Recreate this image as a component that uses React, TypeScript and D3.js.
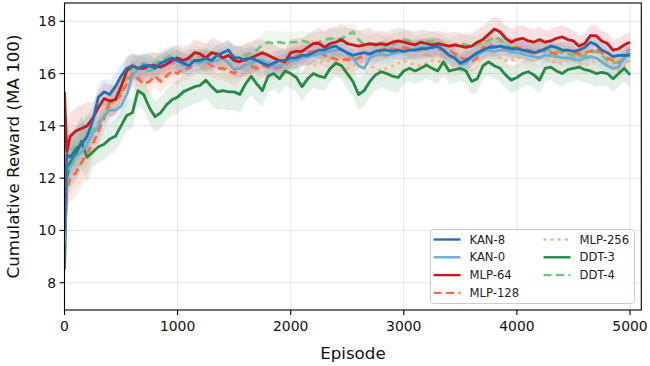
import React from 'react';
import * as d3 from 'd3';

// x grid of the moving averages
const episodes = [0, 20, ...d3.range(50, 5001, 50)];

const kan8 = [10.0, 12.9, 12.8, 13.1, 13.3, 13.6, 14.2, 15.1, 15.3, 15.2, 15.5, 15.9, 16.2, 16.3, 16.2, 16.3, 16.3, 16.2, 16.4, 16.5, 16.6,
  16.5, 16.4, 16.3, 16.5, 16.5, 16.6, 16.5, 16.7, 16.8, 16.9, 16.6, 16.6, 16.5, 16.6, 16.5, 16.4, 16.3, 16.4, 16.5, 16.5,
  16.6, 16.6, 16.7, 16.7, 16.8, 16.9, 16.9, 17.0, 17.05, 16.9, 16.8, 16.7, 16.75, 16.8, 16.75, 16.85, 16.9, 16.9, 16.85, 16.9,
  16.85, 16.9, 16.9, 16.95, 16.95, 17.0, 17.05, 16.9, 16.7, 16.6, 16.4, 16.5, 16.65, 16.8, 16.9, 17.0, 17.0, 17.05, 17.0, 16.95,
  16.95, 16.9, 16.85, 16.8, 16.85, 16.95, 17.05, 17.0, 16.9, 16.9, 16.85, 16.9, 17.0, 17.2, 17.1, 16.9, 16.8, 16.65, 16.7, 16.7, 16.7];
const kan0 = [9.5, 12.3, 12.4, 12.8, 13.0, 13.3, 13.7, 14.0, 14.4, 14.6, 14.6, 14.75, 15.2, 15.9, 16.2, 16.2, 16.1, 16.2, 16.3, 16.4, 16.4,
  16.5, 16.3, 16.5, 16.5, 16.4, 16.5, 16.45, 16.5, 16.6, 16.4, 16.15, 16.2, 16.35, 16.4, 16.5, 16.5, 16.4, 16.25, 16.3, 16.4,
  16.5, 16.5, 16.6, 16.65, 16.7, 16.75, 16.8, 16.85, 16.9, 16.95, 16.75, 16.6, 16.3, 16.2, 16.6, 16.7, 16.75, 16.7, 16.75, 16.8,
  16.85, 16.9, 16.95, 17.0, 17.0, 17.0, 17.0, 16.9, 16.7, 16.6, 16.35, 16.4, 16.6, 16.7, 16.85, 16.9, 16.85, 16.9, 16.9, 16.85,
  16.8, 16.75, 16.7, 16.65, 16.6, 16.7, 16.7, 16.65, 16.6, 16.6, 16.55, 16.5, 16.6, 16.65, 16.6, 16.45, 16.3, 16.2, 16.25, 16.65, 16.95];
const mlp64 = [15.3, 13.0, 13.6, 13.8, 13.9, 14.0, 14.3, 14.7, 15.05, 14.95, 15.0, 15.5, 16.1, 16.3, 16.2, 16.2, 16.3, 16.3, 16.25, 16.35, 16.5,
  16.6, 16.5, 16.6, 16.8, 16.75, 16.6, 16.8, 16.75, 16.6, 16.7, 16.5, 16.45, 16.55, 16.6, 16.7, 16.8, 16.7, 16.6, 16.5, 16.45,
  16.8, 16.85, 16.85, 17.0, 17.15, 17.15, 17.0, 17.15, 17.2, 17.3, 17.15, 17.1, 17.05, 17.1, 17.15, 17.1, 17.15, 17.1, 17.2, 17.25,
  17.2, 17.15, 17.1, 17.2, 17.15, 17.1, 17.15, 17.1, 17.05, 17.1, 17.05, 17.0, 17.05, 17.2, 17.3, 17.5, 17.7, 17.6, 17.35, 17.2,
  17.3, 17.35, 17.25, 17.2, 17.3, 17.2, 17.25, 17.35, 17.4, 17.3, 17.25, 17.05, 17.15, 17.45, 17.45, 17.25, 17.15, 16.9, 16.95, 17.1, 17.2];
const mlp128 = [9.8, 11.5, 12.0, 12.2, 12.6, 12.95, 13.3, 13.8, 14.3, 14.9, 15.0, 15.2, 15.6, 16.0, 15.8, 15.6, 15.7, 15.9, 15.7, 15.9, 16.1,
  16.0, 16.2, 16.2, 16.4, 16.5, 16.45, 16.3, 16.2, 16.2, 16.1, 16.0, 16.2, 16.35, 16.3, 16.2, 16.3, 16.25, 16.2, 16.25, 16.3,
  16.5, 16.7, 16.75, 16.8, 16.85, 16.8, 16.7, 16.6, 16.55, 16.5, 16.55, 16.5, 16.6, 16.7, 16.75, 16.8, 16.85, 17.0, 16.95, 16.9,
  17.0, 16.95, 16.9, 16.9, 16.95, 17.0, 16.95, 16.9, 16.9, 16.75, 16.6, 16.55, 16.45, 16.6, 17.0, 17.1, 17.05, 17.0, 16.9, 16.95,
  17.0, 16.95, 16.9, 16.85, 16.9, 16.85, 16.8, 16.75, 16.85, 16.9, 16.8, 16.75, 16.8, 16.85, 16.95, 16.8, 16.6, 16.5, 16.4, 16.6, 16.8];
const mlp256 = [10.2, 11.8, 12.2, 12.5, 12.8, 13.1, 13.5, 14.0, 14.5, 14.8, 15.0, 15.3, 15.7, 16.0, 16.0, 15.9, 16.0, 16.1, 16.0, 16.2, 16.3,
  16.3, 16.4, 16.4, 16.5, 16.4, 16.3, 16.4, 16.4, 16.3, 16.2, 16.3, 16.4, 16.4, 16.5, 16.4, 16.3, 16.4, 16.4, 16.5, 16.5,
  16.6, 16.6, 16.5, 16.4, 16.3, 16.4, 16.5, 16.5, 16.4, 16.3, 16.2, 16.3, 16.4, 16.5, 16.3, 16.2, 16.1, 16.2, 16.3, 16.4,
  16.5, 16.4, 16.35, 16.3, 16.4, 16.5, 16.5, 16.4, 16.3, 16.3, 16.4, 16.5, 16.4, 16.5, 16.6, 16.7, 16.7, 16.6, 16.5, 16.5,
  16.6, 16.6, 16.5, 16.5, 16.6, 16.6, 16.5, 16.4, 16.4, 16.5, 16.5, 16.4, 16.3, 16.4, 16.5, 16.5, 16.4, 16.2, 16.1, 16.3, 16.5];
const ddt3 = [8.5, 12.0, 12.6, 12.9, 13.4, 12.8, 13.0, 13.2, 13.3, 13.5, 13.6, 14.0, 14.4, 14.5, 15.35, 15.2, 14.7, 14.35, 14.5, 14.8, 15.0,
  15.1, 15.3, 15.4, 15.5, 15.55, 15.75, 15.5, 15.3, 15.35, 15.3, 15.3, 15.2, 15.6, 15.9, 15.6, 15.35, 15.9, 16.0, 15.8, 16.1,
  16.0, 15.85, 15.5, 15.8, 16.0, 15.9, 15.85, 16.2, 16.4, 16.3, 16.0, 15.7, 15.2, 15.35, 15.7, 15.95, 16.07, 16.0, 15.9, 15.85,
  16.1, 16.2, 16.1, 16.2, 16.33, 16.2, 16.1, 16.45, 16.1, 16.15, 16.2, 16.1, 15.7, 15.8, 16.3, 16.45, 16.3, 16.2, 15.95, 15.75,
  15.85, 16.0, 16.07, 15.95, 15.75, 16.2, 16.25, 16.1, 16.0, 16.15, 16.2, 16.25, 16.15, 16.1, 16.0, 16.05, 16.0, 15.8, 16.0, 16.2, 15.95];
const ddt4 = [9.3, 13.5, 13.0, 13.2, 13.4, 13.6, 13.9, 14.1, 14.5, 14.8, 15.0, 15.3, 15.8, 16.2, 16.3, 16.4, 16.35, 16.4, 16.5, 16.6, 16.7,
  16.6, 16.5, 16.6, 16.7, 16.6, 16.7, 16.8, 16.7, 16.6, 16.7, 16.65, 16.6, 16.7, 16.8, 16.9, 17.1, 17.2, 17.15, 17.2, 17.15,
  17.2, 17.2, 17.25, 17.2, 17.15, 17.2, 17.3, 17.35, 17.3, 17.35, 17.45, 17.6, 17.3, 17.1, 17.1, 17.15, 17.1, 17.05, 17.1, 17.2,
  17.3, 17.25, 17.1, 17.15, 17.2, 17.25, 17.2, 17.1, 17.0, 17.1, 17.15, 17.1, 17.05, 17.1, 17.2, 17.25, 17.4, 17.3, 17.1, 17.0,
  16.95, 16.9, 16.85, 16.8, 16.85, 16.9, 16.9, 16.85, 16.8, 16.75, 16.7, 16.65, 16.7, 16.8, 16.85, 16.7, 16.5, 16.4, 16.45, 16.6, 16.8];

// half width of the shaded band, one value per 250 episodes
const kan8Band = [0.8, 0.5, 0.45, 0.4, 0.4, 0.4, 0.45, 0.4, 0.4, 0.35, 0.35, 0.35, 0.35, 0.35, 0.35, 0.35, 0.35, 0.3, 0.3, 0.3, 0.3];
const kan0Band = [0.8, 0.5, 0.45, 0.4, 0.4, 0.4, 0.4, 0.4, 0.35, 0.35, 0.35, 0.35, 0.35, 0.35, 0.35, 0.35, 0.35, 0.3, 0.3, 0.3, 0.3];
const mlp64Band = [0.9, 0.6, 0.5, 0.5, 0.5, 0.55, 0.6, 0.5, 0.5, 0.6, 0.6, 0.5, 0.5, 0.5, 0.5, 0.5, 0.5, 0.45, 0.4, 0.4, 0.4];
const mlp128Band = [0.9, 0.55, 0.5, 0.45, 0.45, 0.45, 0.5, 0.45, 0.45, 0.45, 0.45, 0.4, 0.4, 0.4, 0.4, 0.4, 0.4, 0.4, 0.35, 0.35, 0.35];
const mlp256Band = [0.9, 0.55, 0.5, 0.45, 0.45, 0.45, 0.5, 0.45, 0.45, 0.45, 0.45, 0.4, 0.4, 0.4, 0.4, 0.4, 0.4, 0.4, 0.35, 0.35, 0.35];
const ddt3Band = [1.0, 0.6, 0.6, 0.6, 0.65, 0.7, 0.7, 0.6, 0.55, 0.5, 0.6, 0.6, 0.5, 0.5, 0.5, 0.5, 0.5, 0.5, 0.5, 0.5, 0.5];
const ddt4Band = [0.8, 0.5, 0.45, 0.4, 0.4, 0.4, 0.45, 0.45, 0.4, 0.4, 0.4, 0.4, 0.35, 0.35, 0.35, 0.35, 0.35, 0.35, 0.3, 0.3, 0.3];

const xTicks = [0, 1000, 2000, 3000, 4000, 5000];
const yTicks = [8, 10, 12, 14, 16, 18];

type Series = { name: string; values: number[]; band: number[]; color: string; dash: string | null };

const series: Series[] = [
  { name: 'KAN-8', values: kan8, band: kan8Band, color: '#2171b5', dash: null },
  { name: 'KAN-0', values: kan0, band: kan0Band, color: '#6baed6', dash: null },
  { name: 'MLP-64', values: mlp64, band: mlp64Band, color: '#cb181d', dash: null },
  { name: 'MLP-128', values: mlp128, band: mlp128Band, color: '#fb6a4a', dash: '8,4.5' },
  { name: 'MLP-256', values: mlp256, band: mlp256Band, color: '#fcae91', dash: '2.8,4.4' },
  { name: 'DDT-3', values: ddt3, band: ddt3Band, color: '#238b45', dash: null },
  { name: 'DDT-4', values: ddt4, band: ddt4Band, color: '#74c476', dash: '8,4.5' },
];

// draw order: KAN-8 ends up on top
const drawOrder = ['DDT-4', 'MLP-256', 'DDT-3', 'MLP-128', 'KAN-0', 'MLP-64', 'KAN-8'];

const W = 650, H = 366;
const left = 64.5, right = 641.3, top = 3, bottom = 310;
const font = 'DejaVu Sans, sans-serif';

export default function App() {
  const x = d3.scaleLinear().domain([0, 5100]).range([left, right]);
  const y = d3.scaleLinear().domain([6.956, 18.7]).range([bottom, top]);

  const line = d3.line<number>().x((_, i) => x(episodes[i])).y(d => y(d));
  const area = (s: Series) =>
    d3.area<number>()
      .x((_, i) => x(episodes[i]))
      .y0((d, i) => y(d - s.band[Math.floor(episodes[i] / 250)]))
      .y1((d, i) => y(d + s.band[Math.floor(episodes[i] / 250)]))(s.values) || '';

  const ordered = drawOrder.map(n => series.find(s => s.name === n)!);

  const legendCols = [series.slice(0, 4), series.slice(4)];
  const lgX = 430.5, lgY = 229.5, lgW = 204, lgH = 74;

  return (
    <svg width={W} height={H} style={{ position: 'fixed', left: 0, top: 0, background: '#fff' }} fontFamily={font}>
      <defs>
        <clipPath id="plot">
          <rect x={left} y={top} width={right - left} height={bottom - top} />
        </clipPath>
      </defs>
      <rect x={0} y={0} width={W} height={H} fill="#fff" />
      {/* grid */}
      <g stroke="#b0b0b0" strokeOpacity={0.3} strokeWidth={1}>
        {xTicks.map(t => <line key={'gx' + t} x1={x(t)} x2={x(t)} y1={top} y2={bottom} />)}
        {yTicks.map(t => <line key={'gy' + t} x1={left} x2={right} y1={y(t)} y2={y(t)} />)}
      </g>
      <g clipPath="url(#plot)">
        {ordered.map(s => (
          <path key={'b' + s.name} d={area(s)} fill={s.color} fillOpacity={0.13} stroke="none" />
        ))}
        {ordered.map(s => (
          <path key={'l' + s.name} d={line(s.values) || ''} fill="none" stroke={s.color} strokeWidth={2.8}
            strokeDasharray={s.dash || undefined} strokeLinejoin="round" />
        ))}
      </g>
      {/* axes */}
      <rect x={left} y={top} width={right - left} height={bottom - top} fill="none" stroke="#000" strokeWidth={1.1} />
      <g fontSize={13.9} fill="#111">
        {xTicks.map(t => (
          <g key={'tx' + t}>
            <line x1={x(t)} x2={x(t)} y1={bottom} y2={bottom + 4.9} stroke="#000" strokeWidth={1.1} />
            <text x={x(t)} y={bottom + 20.5} textAnchor="middle">{t}</text>
          </g>
        ))}
        {yTicks.map(t => (
          <g key={'ty' + t}>
            <line x1={left} x2={left - 4.9} y1={y(t)} y2={y(t)} stroke="#000" strokeWidth={1.1} />
            <text x={left - 8.5} y={y(t)} textAnchor="end" dominantBaseline="central">{t}</text>
          </g>
        ))}
      </g>
      <g fontSize={16.7} fill="#111">
        <text x={(left + right) / 2} y={359} textAnchor="middle">Episode</text>
        <text transform={`translate(19,${(top + bottom) / 2}) rotate(-90)`} textAnchor="middle">Cumulative Reward (MA 100)</text>
      </g>
      {/* legend */}
      <rect x={lgX} y={lgY} width={lgW} height={lgH} rx={3} fill="#fff" fillOpacity={0.8} stroke="#cccccc" strokeWidth={1} />
      {legendCols.map((col, ci) => col.map((s, ri) => {
        const hx = ci === 0 ? 433.5 : 543.5;
        const cy = 239.5 + ri * 17.8;
        return (
          <g key={'lg' + s.name}>
            <line x1={hx} x2={hx + 27} y1={cy} y2={cy} stroke={s.color} strokeWidth={2.4} strokeDasharray={s.dash || undefined} />
            <text x={hx + 36} y={cy} dominantBaseline="central" fontSize={11.6} fill="#222">{s.name}</text>
          </g>
        );
      }))}
    </svg>
  );
}
